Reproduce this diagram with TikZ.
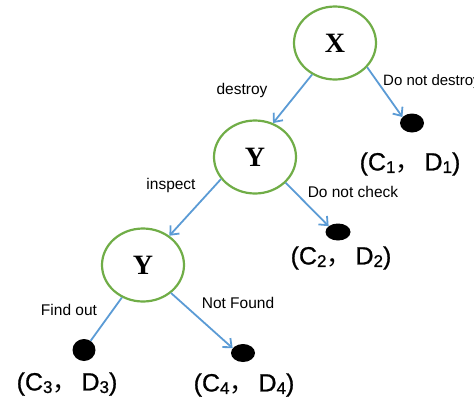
\documentclass[tikz,border=0pt]{standalone}
\usepackage{fontspec}
\setmainfont{Liberation Sans}
\newfontfamily\cjk{Noto Sans CJK SC}
\newfontfamily\serifx{Liberation Serif}
\newfontfamily\payfont[FakeBold=0.8]{Liberation Sans}
\usepackage{xcolor}
\usetikzlibrary{shapes.geometric, arrows.meta, positioning}

\definecolor{chancegreen}{HTML}{70AD47}
\definecolor{edgeblue}{HTML}{5B9BD5}
\newcommand\subidx[1]{\raisebox{-0.1em}{\fontsize{17}{17}\selectfont #1}}
\newcommand\fullcomma{{\cjk ，}\hspace{4pt}}

\begin{document}
\begin{tikzpicture}[
        x=1pt, y=-1pt,
        decide/.style={ellipse, minimum width=82pt, minimum height=73pt, inner sep=0pt, draw=chancegreen, line width=2.2pt, font=\serifx\bfseries\fontsize{28}{28}\selectfont},
        leaf/.style={ellipse, fill=black, minimum width=24pt, minimum height=18pt, inner sep=0pt},
        payoff/.style={inner sep=0pt, text=black, font=\payfont\fontsize{25}{25}\selectfont},
        choice/.style={inner sep=0pt, font=\fontsize{15.5}{15.5}\selectfont},
        arrow/.style={draw=edgeblue, line width=1.8pt, -{Straight Barb[length=7pt,width=12pt]}},
        line/.style={draw=edgeblue, line width=1.8pt}
    ]
    \useasboundingbox (0,0) rectangle (474,400);

    \node (x) [decide] at (335,43) {X};
    \node (y1) [decide] at (255,157) {Y};
    \node (y2) [decide] at (143,265) {Y};

    \node (leaf1) [leaf, minimum height=19pt] at (412,123) {};
    \node (leaf2) [leaf, minimum width=25pt, minimum height=17pt] at (338,232) {};
    \node (leaf3) [leaf, minimum width=23pt, minimum height=22pt] at (84,350) {};
    \node (leaf4) [leaf] at (243,353) {};

    \node (pay1) [payoff] at (410,164) {(C\subidx{1}\fullcomma D\subidx{1})};
    \node (pay2) [payoff] at (341,258) {(C\subidx{2}\fullcomma D\subidx{2})};
    \node (pay3) [payoff] at (67,384) {(C\subidx{3}\fullcomma D\subidx{3})};
    \node (pay4) [payoff] at (244,385) {(C\subidx{4}\fullcomma D\subidx{4})};

    \draw [arrow] (x.234) -- (y1.62);
    \draw [arrow] (x.323) -- (leaf1.148);
    \draw [arrow] (y1.213) -- (y2.48);
    \draw [arrow] (y1.320) -- (leaf2.148);
    \draw [line] (y2.237) -- (leaf3);
    \draw [arrow] (y2.315) -- (leaf4.155);

    \node (lbl1) [choice] at (242,90) {destroy};
    \node (lbl2) [choice, anchor=west, font=\fontsize{15}{15}\selectfont] at (383,82) {Do not destroy};
    \node (lbl3) [choice] at (171,185) {inspect};
    \node (lbl4) [choice] at (353,192) {Do not check};
    \node (lbl5) [choice] at (69,310) {Find out};
    \node (lbl6) [choice] at (238,303) {Not Found};

\end{tikzpicture}
\end{document}
